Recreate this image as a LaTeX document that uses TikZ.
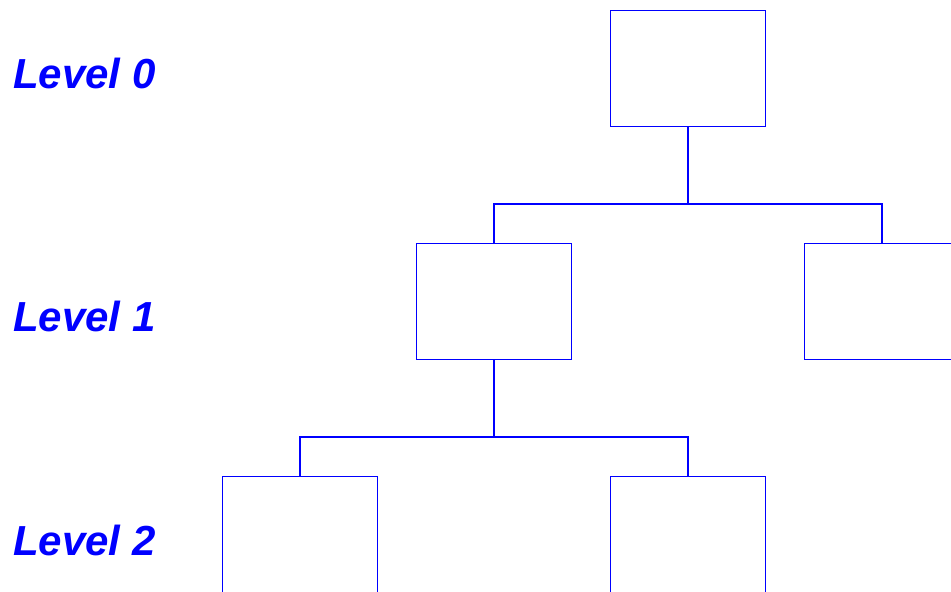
\documentclass[tikz,border=0pt]{standalone}
\usepackage{fontspec}
\newfontfamily\labfont{Liberation Sans}
\definecolor{tblue}{RGB}{0,0,255}
\begin{document}
\begin{tikzpicture}[x=1pt,y=-1pt,
  box/.style={draw=tblue,line width=1pt,minimum width=155pt,minimum height=116pt,inner sep=0pt,fill=white},
  conn/.style={draw=tblue,line width=2pt},
  lvl/.style={text=tblue,anchor=base west,inner sep=0pt,font=\labfont\bfseries\itshape\fontsize{42}{50}\selectfont}]
\useasboundingbox (0,0) rectangle (951,592);
\clip (0,0) rectangle (951,592);
\node[box] (top) at (688,68.5) {};
\node[box] (l1a) at (494,301) {};
\node[box] (l1b) at (882,301) {};
\node[box] (l2a) at (300,534.5) {};
\node[box] (l2b) at (688,534.5) {};
\coordinate (j0) at (688,204);
\coordinate (j1) at (494,437);
\draw[conn] (top.south) -- (j0);
\draw[conn] (l1a.north) |- (j0) -| (l1b.north);
\draw[conn] (l1a.south) -- (j1);
\draw[conn] (l2a.north) |- (j1) -| (l2b.north);
\node[lvl] (lab0) at (13,88.3) {Level 0};
\node[lvl] (lab1) at (13,331.7) {Level 1};
\node[lvl] (lab2) at (13,555) {Level 2};
\end{tikzpicture}
\end{document}
